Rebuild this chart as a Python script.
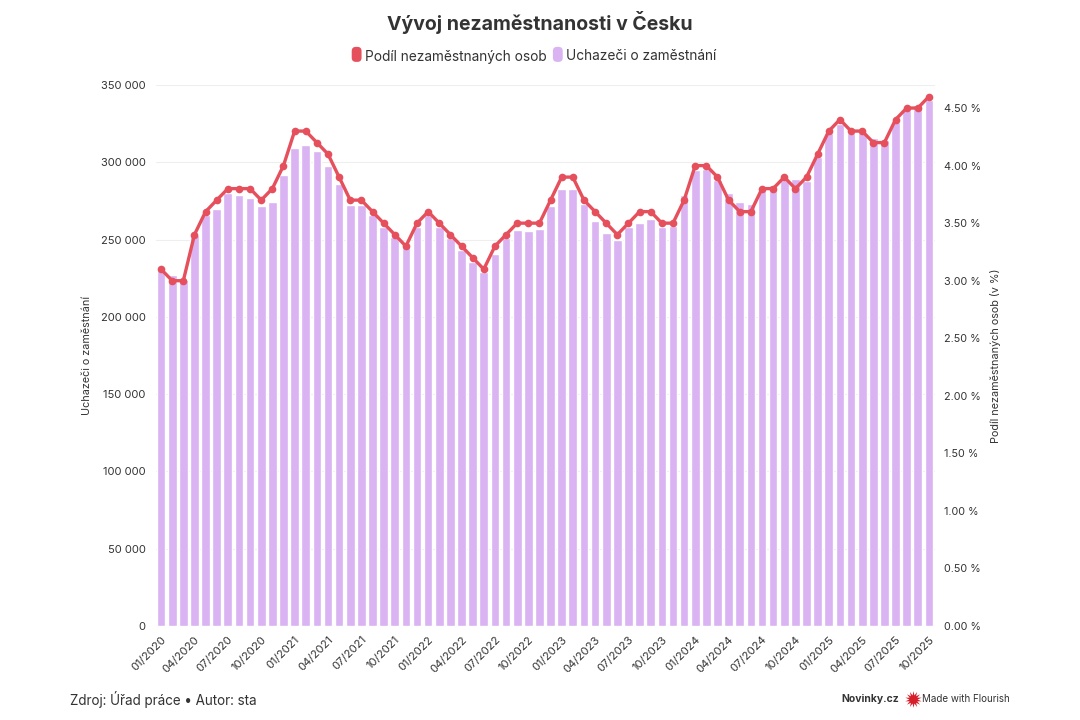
import pandas as pd, matplotlib.pyplot as plt, seaborn as sns
from matplotlib.patches import Patch, FancyBboxPatch
from matplotlib.legend_handler import HandlerPatch
from matplotlib.lines import Line2D

### data ###
years = ['2020', '2021', '2022', '2023', '2024', '2025']
months = ['%02d/%s' % (m, y) for y in years for m in range(1, 13)][:70]

uchazeci_2020 = [230500, 227000, 224000, 253000, 266000, 269700, 280000, 279000, 277000, 272000, 274000, 291700]
uchazeci_2021 = [309000, 311500, 307000, 297500, 286000, 272500, 272500, 266000, 258000, 251700, 245500, 258000]
uchazeci_2022 = [266000, 258000, 251000, 243000, 235500, 229000, 240500, 251000, 256000, 255700, 257000, 272000]
uchazeci_2023 = [283000, 282500, 273000, 262000, 254000, 250000, 258000, 261000, 263000, 258000, 259000, 279000]
uchazeci_2024 = [295000, 295500, 288500, 280000, 274000, 273000, 282000, 285000, 288500, 289000, 288000, 303500]
uchazeci_2025 = [319000, 325000, 319000, 319000, 316000, 314500, 326000, 334000, 337000, 340000]

podil = [3.1, 3.0, 3.0, 3.4, 3.6, 3.7, 3.8, 3.8, 3.8, 3.7, 3.8, 4.0,
         4.3, 4.3, 4.2, 4.1, 3.9, 3.7, 3.7, 3.6, 3.5, 3.4, 3.3, 3.5,
         3.6, 3.5, 3.4, 3.3, 3.2, 3.1, 3.3, 3.4, 3.5, 3.5, 3.5, 3.7,
         3.9, 3.9, 3.7, 3.6, 3.5, 3.4, 3.5, 3.6, 3.6, 3.5, 3.5, 3.7,
         4.0, 4.0, 3.9, 3.7, 3.6, 3.6, 3.8, 3.8, 3.9, 3.8, 3.9, 4.1,
         4.3, 4.4, 4.3, 4.3, 4.2, 4.2, 4.4, 4.5, 4.5, 4.6]

left_ticks = [0, 50000, 100000, 150000, 200000, 250000, 300000, 350000]
left_labels = ['0', '50 000', '100 000', '150 000', '200 000', '250 000', '300 000', '350 000']
right_ticks = [0, 0.5, 1, 1.5, 2, 2.5, 3, 3.5, 4, 4.5]
right_labels = ['%.2f %%' % t for t in right_ticks]

df = pd.DataFrame({'mesic': months,
                   'uchazeci': uchazeci_2020 + uchazeci_2021 + uchazeci_2022 + uchazeci_2023 + uchazeci_2024 + uchazeci_2025,
                   'podil': podil})

purple = '#d9b3f2'
red = '#e5505c'
grey = '#333333'

sns.set_theme(style='white')
plt.rcParams['font.family'] = ['Inter', 'DejaVu Sans']

fig = plt.figure(figsize=(10.8, 7.2), dpi=100)
ax = fig.add_axes([155.5/1080, 94/720, 779/1080, 541/720])

### bars ###
sns.barplot(data=df, x='mesic', y='uchazeci', color=purple, saturation=1, width=0.78, ax=ax, zorder=2)
ax.set_xlim(-0.5, 69.5)
ax.set_ylim(0, 350000)
ax.set_yticks(left_ticks, left_labels)
ax.set_xticks(range(0, 70, 3), df['mesic'][::3], rotation=45, ha='right', rotation_mode='anchor')
ax.set_xlabel('')
ax.set_ylabel('Uchazeči o zaměstnání', fontsize=7.8, color=grey)
ax.yaxis.set_label_coords(-0.0815, 0.5)
ax.grid(axis='y', color='#eeeeee', lw=0.8, zorder=0)
ax.set_axisbelow(True)
ax.tick_params(axis='y', labelsize=8, labelcolor=grey, length=0, pad=7)
ax.tick_params(axis='x', labelsize=8.2, labelcolor=grey, length=0, pad=6)
sns.despine(ax=ax, left=True, bottom=True)

### line on second axis ###
ax2 = ax.twinx()
sns.lineplot(x=range(len(df)), y=df['podil'].values, color=red, lw=2.4, marker='o', markersize=5.5,
             markeredgewidth=0, ax=ax2, zorder=3)
ax2.set_ylim(0, 541 / 115.1)
ax2.set_yticks(right_ticks, right_labels)
ax2.set_ylabel('Podíl nezaměstnaných osob (v %)', fontsize=7.8, color=grey)
ax2.yaxis.set_label_coords(1.0713, 0.5)
ax2.tick_params(axis='y', labelsize=7.8, labelcolor=grey, length=0, pad=7)
sns.despine(ax=ax2, left=True, bottom=True, right=True)

### title, legend, footer ###
fig.text(0.5, 698/720, 'Vývoj nezaměstnanosti v Česku', ha='center', va='center',
         fontsize=14, fontweight='bold', color=grey)

def rounded_handle(legend, orig_handle, xdescent, ydescent, width, height, fontsize):
    return FancyBboxPatch((0, -1), width, height + 2, boxstyle='round,pad=0,rounding_size=3')

handles = [Patch(facecolor=red, edgecolor=red, lw=0, label='Podíl nezaměstnaných osob'),
           Patch(facecolor=purple, edgecolor=purple, lw=0, label='Uchazeči o zaměstnání')]
fig.legend(handles=handles, loc='center', bbox_to_anchor=(0.4945, 663.5/720), ncol=2, frameon=False,
           fontsize=9.85, labelcolor=grey, handlelength=0.72, handleheight=1.0, handletextpad=0.25,
           columnspacing=0.45, borderpad=0, handler_map={Patch: HandlerPatch(patch_func=rounded_handle)})

fig.text(70/1080, 20/720, 'Zdroj: Úřad práce • Autor: sta', ha='left', va='center', fontsize=9.7, color=grey)
fig.text(841/1080, 21/720, 'Novinky.cz', ha='left', va='center', fontsize=7.5, fontweight='bold', color=grey)
fig.add_artist(Line2D([913/1080], [21/720], marker=(14, 1, 0), markersize=12, color='#d5202c',
                      markeredgewidth=0, transform=fig.transFigure))
fig.text(922/1080, 21/720, 'Made with Flourish', ha='left', va='center', fontsize=7.05, color=grey)

plt.savefig('out.png', dpi=100)
